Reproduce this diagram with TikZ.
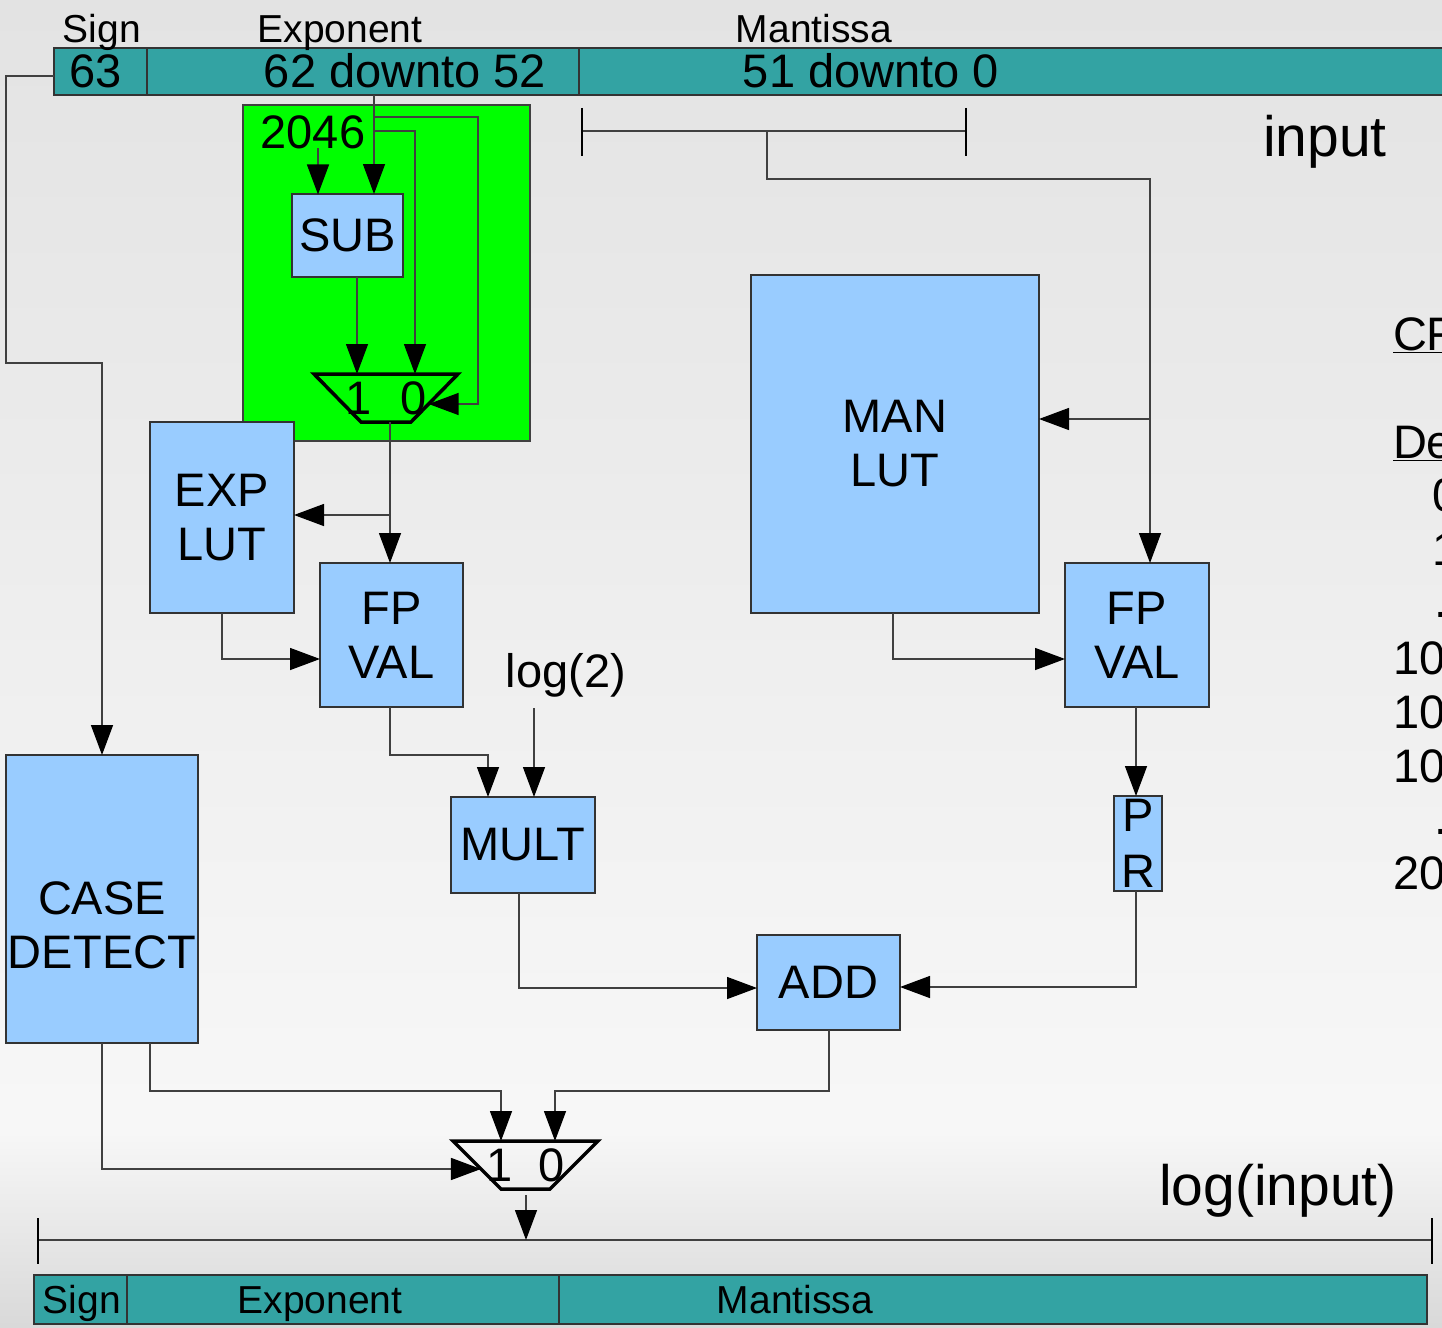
\documentclass[tikz,border=0pt]{standalone}
\usepackage{fontspec}
\setmainfont{Liberation Sans}
\usetikzlibrary{arrows.meta,calc}
\definecolor{tealc}{HTML}{33A3A3}
\definecolor{boxblue}{HTML}{99CCFF}
\definecolor{lgreen}{HTML}{00FF00}
\definecolor{wirec}{HTML}{404040}
\newcommand\fntLbl{\fontsize{39}{44}\selectfont}
\newcommand\fntBig{\fontsize{47}{54}\selectfont}
\newcommand\fntHuge{\fontsize{57}{64}\selectfont}
\begin{document}
\begin{tikzpicture}[x=1pt,y=-1pt,
  blk/.style={draw=black!80, fill=boxblue, line width=1.2pt, inner sep=0pt, outer sep=0pt, align=center, font=\fntBig},
  cell/.style={draw=black!80, fill=tealc, line width=1.2pt, inner sep=0pt, outer sep=0pt},
  wire/.style={draw=wirec, line width=1.4pt},
  arr/.style={wire, -{Triangle[length=30pt,width=22pt,color=black]}},
  muxline/.style={draw=black, line width=3.5pt, line join=miter},
  txt/.style={inner sep=0pt, outer sep=0pt, anchor=base},
  txtw/.style={inner sep=0pt, outer sep=0pt, anchor=base west, font=\fntBig},
  muxbox/.style={inner sep=0pt, outer sep=0pt, font=\fntBig}]
% background
\useasboundingbox (0,0) rectangle (1442,1327);
\shade[top color=black!11, bottom color=black!3] (0,0) rectangle (1442,1130);
\shade[top color=black!3, bottom color=black!15] (0,1130) rectangle (1442,1327);
\clip (0,0) rectangle (1442,1327);

% top register
\node[cell, minimum width=93pt, minimum height=47pt] (signcell) at (100.5,71.5) {};
\node[cell, minimum width=432pt, minimum height=47pt] (expcell) at (363,71.5) {};
\node[cell, minimum width=891pt, minimum height=47pt] (mancell) at (1024.5,71.5) {};
\node[txt, font=\fntLbl] (tsign) at (102,43) {Sign};
\node[txt, font=\fntLbl] (texp) at (340,43) {Exponent};
\node[txt, font=\fntLbl] (tman) at (814,43) {Mantissa};
\node[txt, font=\fntBig] (t63) at (96,88) {63};
\node[txt, font=\fntBig] (t6252) at (405,88) {62 downto 52};
\node[txt, font=\fntBig] (t510) at (871,88) {51 downto 0};
\node[txt, font=\fntHuge] (tinput) at (1325,157) {input};

% green region
\node[draw=black!75, fill=lgreen, line width=1.2pt, minimum width=287pt, minimum height=336pt, inner sep=0pt] (green) at (386.5,273) {};
\node[txt, font=\fntBig] (n2046) at (313,148) {2046};
\node[blk, minimum width=111pt, minimum height=83pt] (sub) at (347.5,235.5) {SUB};
\node[muxbox, minimum width=144pt, minimum height=48pt] (mux1) at (386,398) {1\hspace{29pt}0};
\draw[muxline] (mux1.north west) -- (mux1.north east) -- ([xshift=-47pt]mux1.south east) -- ([xshift=47pt]mux1.south west) -- cycle;
\coordinate (m1r) at ($(mux1.north east)!0.625!([xshift=-47pt]mux1.south east)$);

% left datapath
\node[blk, minimum width=144pt, minimum height=191pt] (explut) at (222,517.5) {EXP\\LUT};
\node[blk, minimum width=143pt, minimum height=144pt] (fpl) at (391.5,635) {FP\\VAL};
\node[txt, font=\fntBig] (log2) at (566,687) {log(2)};
\node[blk, minimum width=144pt, minimum height=96pt] (mult) at (523,845) {MULT};
\node[blk, minimum width=143pt, minimum height=95pt] (add) at (828.5,982.5) {ADD};

% right datapath
\node[blk, minimum width=288pt, minimum height=338pt] (manlut) at (895,444) {MAN\\LUT};
\node[blk, minimum width=144pt, minimum height=144pt] (fpr) at (1137,635) {FP\\VAL};
\node[blk, minimum width=48pt, minimum height=95pt, font=\fontsize{47}{56}\selectfont] (pr) at (1138,843.5) {P\\R};

% case detect
\node[blk, minimum width=192pt, minimum height=288pt] (case) at (102,899) {};
\node[align=center, inner sep=0pt, font=\fntBig] (casetxt) at (102,925) {CASE\\DETECT};

% output mux
\node[muxbox, minimum width=145pt, minimum height=48pt] (mux2) at (525.5,1165) {1\hspace{26pt}0};
\draw[muxline] (mux2.north west) -- (mux2.north east) -- ([xshift=-48pt]mux2.south east) -- ([xshift=48pt]mux2.south west) -- cycle;
\coordinate (m2l) at ($(mux2.north west)!0.583!([xshift=48pt]mux2.south west)$);

% bottom register
\node[cell, minimum width=93pt, minimum height=49pt] (bsign) at (80.5,1299.5) {};
\node[cell, minimum width=432pt, minimum height=49pt] (bexp) at (343,1299.5) {};
\node[cell, minimum width=868pt, minimum height=49pt] (bman) at (993,1299.5) {};
\node[txt, font=\fntLbl] (bts) at (82,1313) {Sign};
\node[txt, font=\fntLbl] (bte) at (320,1313) {Exponent};
\node[txt, font=\fntLbl] (btm) at (795,1313) {Mantissa};
\node[txt, font=\fntHuge] (tlog) at (1278,1205) {log(input)};

% cut-off text on the right
\node[txtw] (r1) at (1393,350) {\underline{CF}};
\node[txtw] (r2) at (1393,458) {\underline{De}};
\node[txtw] (r3) at (1432,511) {0};
\node[txtw] (r4) at (1432,565) {1};
\node[txtw] (r5) at (1434,617) {.};
\node[txtw] (r6) at (1393,674) {10};
\node[txtw] (r7) at (1393,728) {10};
\node[txtw] (r8) at (1393,782) {10};
\node[txtw] (r9) at (1434,834) {.};
\node[txtw] (r10) at (1393,889) {20};

% ---- connectors ----
\coordinate (etap) at (374,95);
\draw[arr] (etap) -- (etap |- sub.north);
\draw[arr] (374,117) -| (478,404) -- (m1r);
\draw[arr] (374,131) -| ([xshift=29pt]mux1.north);
\draw[arr] ([xshift=5pt]n2046.south) -- ++(0,46);
\draw[arr] ([xshift=9.5pt]sub.south) -- ([xshift=-29pt]mux1.north);
\draw[arr] ([xshift=4pt]mux1.south) -- ++(0,141);
\coordinate (j1) at (390,515);
\draw[arr] (j1) -- (j1 -| explut.east);
\draw[arr] (explut.south) |- ($(fpl.west)+(0,24)$);
\draw[arr] ([xshift=-1.5pt]fpl.south) -- ++(0,48) -| ([xshift=-35pt]mult.north);
\coordinate (l2) at (534,708);
\draw[arr] (l2) -- (l2 |- mult.north);
\draw[arr] ([xshift=-4pt]mult.south) |- ($(add.west)+(0,5.5)$);

% mantissa bracket
\coordinate (mL) at (582,131);
\coordinate (mR) at (966,131);
\draw[wire] (mL) -- (mR);
\draw[draw=black, line width=1.2pt] ([yshift=23pt]mL) -- ([yshift=-25pt]mL);
\draw[draw=black, line width=1.2pt] ([yshift=23pt]mR) -- ([yshift=-25pt]mR);
\draw[arr] (767,131) -- (767,179) -| ([xshift=13pt]fpr.north);
\coordinate (j2) at (1150,419);
\draw[arr] (j2) -- (j2 -| manlut.east);
\draw[arr] ([xshift=-2pt]manlut.south) |- ($(fpr.west)+(0,24)$);
\draw[arr] ([xshift=-1pt]fpr.south) -- ([xshift=-2pt]pr.north);
\draw[arr] ([xshift=-2pt]pr.south) |- ($(add.east)+(0,4.5)$);

% sign path
\draw[arr] ([yshift=-4.5pt]signcell.west) -- (6,76) -- (6,363) -| (case.north);
\draw[arr] ([xshift=48pt]case.south) -- ++(0,48) -| ([xshift=-24.5pt]mux2.north);
\draw[arr] (case.south) |- (m2l);
\draw[arr] ([xshift=0.5pt]add.south) -- ++(0,61) -| ([xshift=29.5pt]mux2.north);

% output bracket
\coordinate (oL) at (38,1240);
\coordinate (oR) at (1432,1240);
\coordinate (oM) at (526,1240);
\draw[wire] (oL) -- (oR);
\draw[draw=black, line width=1.2pt] ([yshift=22pt]oL) -- ([yshift=-24pt]oL);
\draw[draw=black, line width=1.2pt] ([yshift=22pt]oR) -- ([yshift=-24pt]oR);
\draw[arr] ([xshift=0.5pt,yshift=-6pt]mux2.south) -- (oM);
\end{tikzpicture}
\end{document}
